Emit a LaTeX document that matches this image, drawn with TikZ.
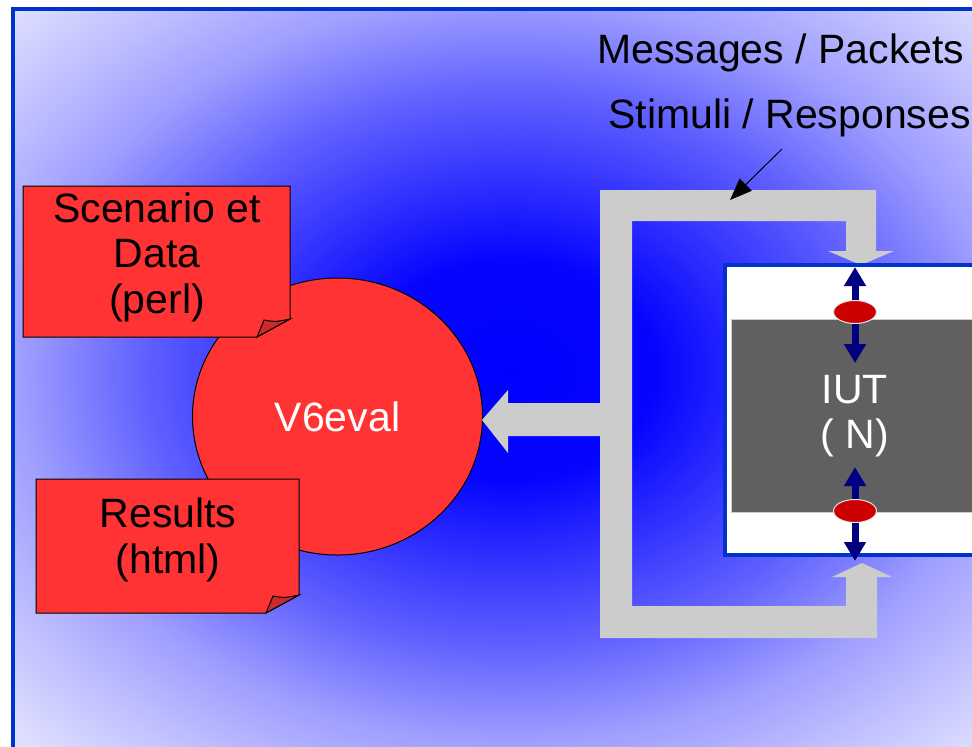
\documentclass[tikz,border=0pt]{standalone}
\usepackage{fontspec}
\setmainfont{Liberation Sans}
\usetikzlibrary{arrows.meta,shapes.geometric}
\definecolor{framblue}{RGB}{0,51,204}
\definecolor{docred}{RGB}{255,51,51}
\definecolor{foldred}{RGB}{204,41,41}
\definecolor{loopgrey}{RGB}{204,204,204}
\definecolor{iutgrey}{RGB}{96,96,96}
\definecolor{portred}{RGB}{204,0,0}
\definecolor{navy}{RGB}{0,0,128}
\pgfdeclareradialshading{bgglow}{\pgfpoint{0bp}{0bp}}{rgb(0bp)=(0,0,1); rgb(10bp)=(0.02,0.02,1); rgb(25bp)=(0.38,0.38,1); rgb(33.3bp)=(0.62,0.62,1); rgb(40bp)=(0.75,0.75,1); rgb(46.7bp)=(0.87,0.87,1); rgb(50bp)=(0.9,0.9,1)}
\begin{document}
\begin{tikzpicture}[x=0.5pt,y=-0.5pt,font=\fontsize{20.5}{22.75}\selectfont]
\tikzstyle{doc}=[fill=docred,draw=black,line width=0.5pt]
\tikzstyle{fold}=[fill=foldred,draw=black,line width=0.5pt]
\tikzstyle{doctext}=[align=center,text=black,inner sep=0pt]
\tikzstyle{port}=[ellipse,fill=portred,draw=white!90!black,line width=0.5pt,minimum width=21.5pt,minimum height=11.5pt,inner sep=0pt]
\tikzstyle{navyarrow}=[navy,line width=3.5pt,-{Triangle[length=9.5pt,width=10.5pt]}]
\useasboundingbox (0,0) rectangle (972,746);
\clip (0,0) rectangle (972,746);
\fill[white] (0,0) rectangle (972,746);
% background
\begin{scope}
\clip (12,9) rectangle (1000,760);
\node[transform shape,inner sep=0pt,xscale=7.32,yscale=5.53] (glow) at (510,370) {\pgfuseshading{bgglow}};
\end{scope}
\draw[framblue,line width=2pt] (12.5,9) rectangle (1000,760);
% tester
\node[ellipse,fill=docred,draw=black,line width=0.5pt,minimum width=145pt,minimum height=138.5pt,inner sep=0pt,text=white] (v6) at (337.5,416.5) {V6eval};
\foreach \xa/\ya/\xb/\yb in {23/186/290/337,36/479/299/613}{
  \draw[doc] (\xa,\ya) -- (\xb,\ya) -- (\xb,\yb-18) -- (\xb-33,\yb) -- (\xa,\yb) -- cycle;
  \draw[fold] (\xb-33,\yb) -- (\xb-26,\yb-17) .. controls (\xb-15,\yb-15) .. (\xb,\yb-18) -- cycle;
}
\node[doctext] (scen) at (157,257) {Scenario et\\Data\\(perl)};
\node[doctext] (res) at (168,540) {Results\\(html)};
% stimuli / responses loop
\coordinate (tipv) at (482,420);
\fill[loopgrey] (600,190) -- (876,190) -- (876,251) -- (894,251) -- (861,265) -- (828,251) -- (846,251) -- (846,221)
  -- (632,221) -- (632,606) -- (846,606) -- (846,577) -- (832,577) -- (862,563) -- (892,577) -- (877,577) -- (877,638)
  -- (600,638) -- (600,436) -- (508,436) -- (508,453) -- (tipv) -- (508,390) -- (508,403) -- (600,403) -- cycle;
% IUT
\node[fill=white,draw=framblue,line width=2pt,minimum width=131pt,minimum height=145pt,inner sep=0pt] (iut) at (856,410) {};
\node[fill=iutgrey,draw=white!80!black,line width=0.5pt,minimum width=124pt,minimum height=96.5pt,inner sep=0pt,text=white,align=center] (dut) at (855,416) {IUT\\( N)};
\node[port] (p1) at (855,312) {};
\node[port] (p2) at (855,511) {};
\coordinate (t1) at (855,267);
\coordinate (t2) at (855,363);
\coordinate (t3) at (855,467);
\coordinate (t4) at (855,561);
\foreach \p/\a/\b in {p1/t1/t2,p2/t3/t4}{
  \draw[navyarrow] (\p.north) -- (\a);
  \draw[navyarrow] (\p.south) -- (\b);
}
% labels
\node[anchor=base west,inner sep=0pt] (msg) at (597,63) {Messages / Packets};
\node[anchor=base west,inner sep=0pt] (stim) at (608,128) {Stimuli / Responses};
\coordinate (s0) at (782,149);
\coordinate (s1) at (730,200);
\draw[line width=0.5pt,-{Triangle[length=11pt,width=8.5pt]}] (s0) -- (s1);
\end{tikzpicture}
\end{document}
